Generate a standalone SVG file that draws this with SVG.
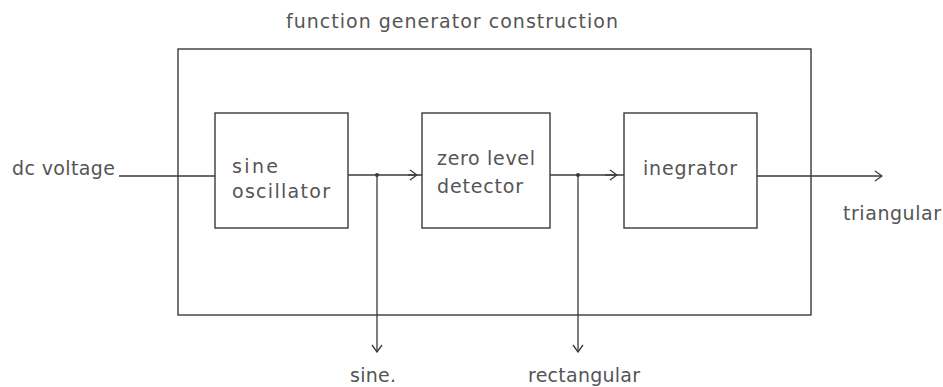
<svg xmlns="http://www.w3.org/2000/svg" width="943" height="387" viewBox="0 0 943 387">
<style>
  text { font-family: "DejaVu Sans", "Liberation Sans", sans-serif; font-size: 19px; fill: #555; }
  .box { fill: none; stroke: #3a3a3a; stroke-width: 1.4; }
  .wire { fill: none; stroke: #3a3a3a; stroke-width: 1.3; }
</style>
<defs>
  <marker id="arr" markerWidth="10" markerHeight="12" refX="9" refY="6" orient="auto" markerUnits="userSpaceOnUse">
    <path d="M2,1 L9,6 L2,11" fill="none" stroke="#3a3a3a" stroke-width="1.3"/>
  </marker>
</defs>
<rect width="943" height="387" fill="#ffffff"/>
<g id="title"><text x="286" y="28" textLength="332" lengthAdjust="spacing">function generator construction</text></g>
<g id="frame"><rect class="box" x="178" y="49" width="633" height="266"/></g>
<g id="sine-oscillator">
  <rect class="box" x="215" y="113" width="133" height="115"/>
  <text x="232" y="173" textLength="46" lengthAdjust="spacing">sine</text>
  <text x="232" y="198" textLength="98" lengthAdjust="spacing">oscillator</text>
</g>
<g id="zero-level-detector">
  <rect class="box" x="422" y="113" width="128" height="115"/>
  <text x="437" y="165" textLength="98" lengthAdjust="spacing">zero level</text>
  <text x="437" y="193" textLength="86" lengthAdjust="spacing">detector</text>
</g>
<g id="integrator">
  <rect class="box" x="624" y="113" width="133" height="115"/>
  <text x="643" y="175" textLength="94" lengthAdjust="spacing">inegrator</text>
</g>
<g id="labels">
  <text x="12" y="175" textLength="103" lengthAdjust="spacing">dc voltage</text>
  <text x="843" y="220" textLength="98" lengthAdjust="spacing">triangular</text>
  <text x="350" y="382" textLength="46" lengthAdjust="spacing">sine.</text>
  <text x="528" y="382" textLength="112" lengthAdjust="spacing">rectangular</text>
</g>
<g id="connectors">
  <line class="wire" x1="119" y1="176" x2="215" y2="176"/>
  <line class="wire" x1="348" y1="175" x2="422" y2="175"/>
  <path class="wire" d="M408,175 L417,175" marker-end="url(#arr)"/>
  <line class="wire" x1="377" y1="175" x2="377" y2="352" marker-end="url(#arr)"/>
  <circle cx="377" cy="175" r="2" fill="#3a3a3a"/>
  <line class="wire" x1="550" y1="175" x2="624" y2="175"/>
  <path class="wire" d="M605,175 L617,175" marker-end="url(#arr)"/>
  <line class="wire" x1="578" y1="175" x2="578" y2="352" marker-end="url(#arr)"/>
  <circle cx="578" cy="175" r="2" fill="#3a3a3a"/>
  <line class="wire" x1="757" y1="176" x2="882" y2="176" marker-end="url(#arr)"/>
</g>
</svg>
